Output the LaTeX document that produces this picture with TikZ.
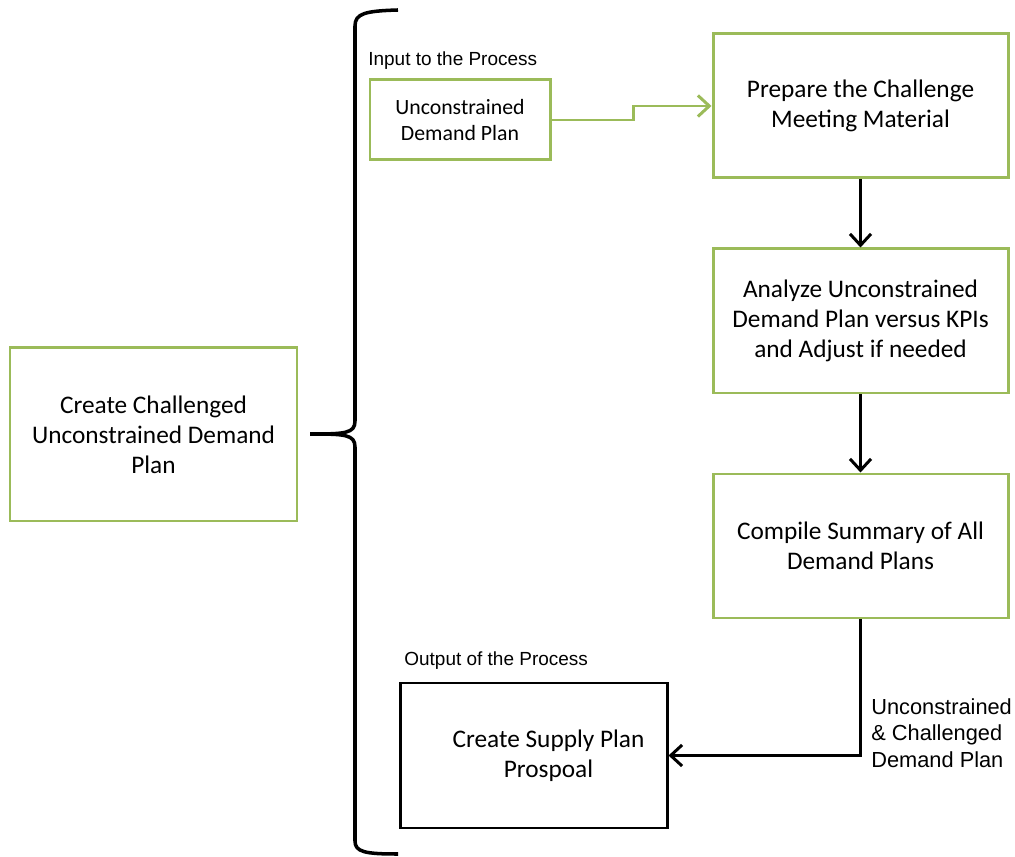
\documentclass[tikz,border=0pt]{standalone}
\usepackage{fontspec}
\usepackage{tikz}
\usetikzlibrary{arrows.meta}
\setmainfont{Carlito}
\newfontfamily\labelfont{Liberation Sans}
\definecolor{boxgreen}{RGB}{155,187,89}

\begin{document}
\begin{tikzpicture}[
    greenbox/.style={draw=boxgreen, line width=1.7pt, align=center, inner sep=2pt,
      font=\fontsize{14.4}{17}\selectfont},
    blackbox/.style={draw=black, line width=1.7pt, align=center, inner sep=2pt,
      font=\fontsize{14.4}{17}\selectfont},
    flow/.style={line width=1.7pt, -{Straight Barb[length=6.5pt,width=12pt,line width=1.7pt]}},
    caption/.style={font=\labelfont\fontsize{10.8}{13}\selectfont, inner sep=0pt}
  ]
    \useasboundingbox (0,0) rectangle (20.3,17.12);

    % Process boxes
    \node[greenbox, minimum width=5.74cm, minimum height=3.46cm] (create) at (3.07,8.43)
      {Create Challenged\\Unconstrained Demand\\Plan};
    \node[greenbox, minimum width=3.6cm, minimum height=1.6cm,
      font=\fontsize{12.4}{14.8}\selectfont] (input) at (9.2,14.72)
      {Unconstrained\\Demand Plan};
    \node[greenbox, minimum width=5.9cm, minimum height=2.88cm] (prepare) at (17.21,15.0)
      {Prepare the Challenge\\Meeting Material};
    \node[greenbox, minimum width=5.9cm, minimum height=2.88cm] (analyze) at (17.21,10.7)
      {Analyze Unconstrained\\Demand Plan versus KPIs\\and Adjust if needed};
    \node[greenbox, minimum width=5.9cm, minimum height=2.88cm] (compile) at (17.21,6.2)
      {Compile Summary of All\\Demand Plans};
    \node[blackbox, minimum width=5.34cm, minimum height=2.9cm] (supply) at (10.67,2.01)
      {\hspace*{0.6cm}Create Supply Plan\\\hspace*{0.6cm}Prospoal};

    % Captions
    \node[caption, anchor=west] (intitle) at (7.36,15.9) {Input to the Process};
    \node[caption, anchor=west] (outtitle) at (8.08,3.9) {Output of the Process};
    \node[anchor=west, align=left, inner sep=0pt, font=\labelfont\fontsize{12.4}{15}\selectfont]
      (outlabel) at (17.42,2.46) {Unconstrained\\\& Challenged\\Demand Plan};

    % Brace
    \draw[line width=2pt] (7.96,16.92) .. controls (7.3,16.9) and (7.1,16.85) .. (7.1,16.6)
      -- (7.1,8.7) .. controls (7.1,8.45) and (6.9,8.44) .. (6.2,8.44)
      (6.2,8.44) .. controls (6.9,8.44) and (7.1,8.43) .. (7.1,8.18)
      -- (7.1,0.3) .. controls (7.1,0.08) and (7.3,0.04) .. (7.96,0.04);

    % Flow
    \draw[flow, draw=boxgreen, line width=1.3pt] (input.east) -- ++(1.64,0) |- (prepare.west);
    \draw[flow] (prepare) -- (analyze);
    \draw[flow] (analyze) -- (compile);
    \draw[flow] (compile.south) |- (supply.east);
\end{tikzpicture}
\end{document}
